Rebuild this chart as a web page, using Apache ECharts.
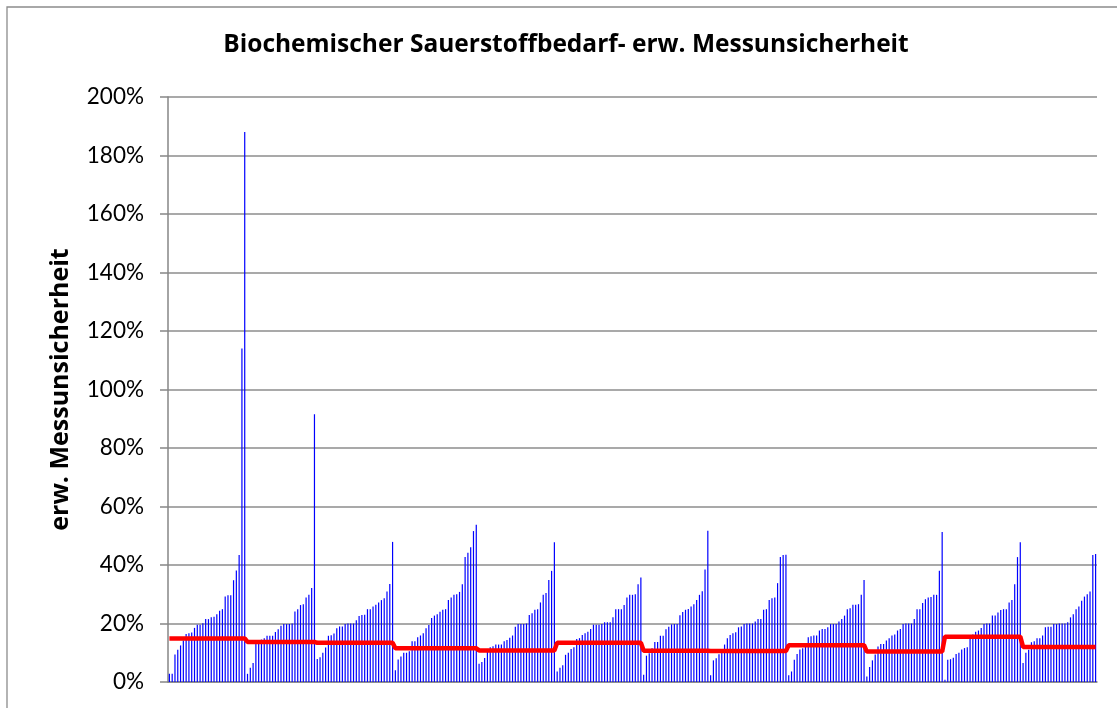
<!DOCTYPE html>
<html>
<head>
<meta charset="utf-8">
<script src="https://cdn.jsdelivr.net/npm/echarts@6/dist/echarts.min.js"></script>
<style>
html,body{margin:0;padding:0;background:#fff;}
#chart{width:1117px;height:708px;}
</style>
</head>
<body>
<div id="chart"></div>
<script>
// Bar values (%) per group
const g1 = [2.8, 2.8, 9.4, 11.0, 12.5, 14.2, 16.4, 16.7, 16.9, 18.5, 19.6, 19.6, 20.1, 21.5, 21.5, 22.1, 22.3, 23.2, 24.4, 24.9, 29.2, 29.7, 29.7, 34.8, 38.1, 43.4, 114, 188];
const g2 = [2.8, 4.9, 6.5, 13, 14, 14.5, 15, 15.8, 15.8, 15.8, 17.1, 18, 19.2, 19.8, 19.8, 19.8, 20, 24.1, 24.9, 26.3, 26.6, 28.9, 29.8, 32.1, 91.5];
const g3 = [7.9, 8.5, 10, 11.8, 15.8, 16, 16.6, 18.4, 19, 19, 19.8, 20, 20, 20, 21.1, 22.6, 22.9, 23, 24.9, 24.9, 25.8, 26.4, 27.2, 28, 28.6, 30.9, 33.5, 47.9];
const g4 = [4.0, 7.7, 8.7, 10, 10, 10.5, 13.9, 13.9, 15.3, 15.9, 16.7, 18.4, 19.5, 21.9, 22.7, 23.2, 24, 24.7, 24.9, 28, 28.9, 29.8, 30, 30.8, 33.4, 42.7, 44.2, 46.1, 51.6, 53.8];
const g5 = [6.2, 6.8, 8.2, 11.3, 11.9, 12.2, 12.8, 12.8, 12.8, 13.9, 14.4, 15.1, 15.9, 18.9, 19.8, 19.8, 19.8, 20, 22.9, 23.5, 24.7, 24.9, 27.2, 29.8, 30.4, 34.9, 38, 47.8];
const g6 = [3.6, 4.9, 5.7, 9.3, 10, 11.3, 11.9, 14.7, 15, 16.1, 16.7, 17.2, 18.1, 19.6, 19.6, 19.6, 19.8, 20.4, 20.4, 20.4, 22.1, 24.9, 24.9, 24.9, 26.3, 28.9, 29.8, 29.8, 30, 33.4, 35.7];
const g7 = [2.5, 9, 9.8, 11.5, 13.7, 13.7, 15.8, 15.8, 18, 18.9, 19.7, 19.8, 19.8, 22.8, 23.9, 24.7, 25, 25.8, 26.6, 28, 29.8, 31, 38.5, 51.7];
const g8 = [2.3, 7.4, 8.1, 9.5, 10.5, 12.8, 15, 16.1, 16.7, 17, 18.7, 19, 19.8, 20, 20, 20, 20.7, 21.5, 21.5, 24.7, 24.9, 28, 28.6, 28.9, 33.8, 42.7, 43.4, 43.5];
const g9 = [2.3, 3.6, 7.6, 9.6, 11.1, 11.5, 13, 15.3, 15.6, 15.9, 15.9, 17.6, 18.1, 18.1, 18.7, 19.8, 19.8, 19.8, 20.7, 21.5, 22.7, 24.9, 25.2, 26.4, 26.4, 26.6, 29.8, 34.9];
const g10 = [1.9, 5.1, 7.4, 9.4, 12.1, 13, 13, 14.2, 15, 15.9, 16.2, 17.6, 18.1, 19.8, 20, 20, 20, 21.5, 24.9, 24.9, 27, 28.3, 28.9, 29.1, 29.8, 29.8, 38, 51.3];
const g11 = [0.8, 7.6, 7.8, 8.3, 9.6, 10, 11.1, 11.6, 11.9, 15.3, 16.2, 17.2, 17.6, 18.5, 19.8, 20, 20, 22.7, 22.7, 23.8, 24.6, 24.9, 24.9, 27.2, 28, 33.4, 42.7, 47.8];
const g12 = [6.5, 10, 11, 13.6, 13.9, 15, 15, 15.9, 18.7, 18.9, 18.9, 19.8, 19.8, 20, 20, 20, 20.4, 22.1, 23.2, 24.9, 25.8, 27.8, 29.2, 30, 30.9, 43.4, 43.8];

// Red step line: one level (%) per group
const groupLevels = [14.9, 13.7, 13.4, 11.5, 10.8, 13.4, 10.7, 10.6, 12.6, 10.4, 15.5, 12.0];

// Y-axis tick labels
const yTicks = [0, 20, 40, 60, 80, 100, 120, 140, 160, 180, 200];

const groups = [g1, g2, g3, g4, g5, g6, g7, g8, g9, g10, g11, g12];
const barValues = [];
const lineValues = [];
groups.forEach((g, i) => {
  g.forEach(v => { barValues.push(v); lineValues.push(groupLevels[i]); });
});
const categories = barValues.map((_, i) => String(i + 1));

const chart = echarts.init(document.getElementById('chart'), null, {renderer: 'canvas'});
const FONT = '"Open Sans", Lato, sans-serif';
chart.setOption({
  animation: false,
  backgroundColor: '#ffffff',
  title: {
    text: 'Biochemischer Sauerstoffbedarf- erw. Messunsicherheit',
    left: 566, top: 28, textAlign: 'center',
    textStyle: {fontFamily: FONT, fontWeight: 'bold', fontSize: 24.5, color: '#000'}
  },
  graphic: [{
    type: 'rect', shape: {x: 7, y: 7, width: 1130, height: 730},
    style: {fill: 'none', stroke: '#8c8c8c', lineWidth: 1.3}, silent: true
  }],
  grid: {left: 168, right: 20, top: 97, bottom: 26, containLabel: false},
  xAxis: {
    type: 'category', data: categories, boundaryGap: true,
    axisLine: {show: true, lineStyle: {color: '#868686', width: 1.5}},
    axisTick: {show: false}, axisLabel: {show: false}, splitLine: {show: false}
  },
  yAxis: {
    type: 'value', min: 0, max: 200, interval: 20,
    name: 'erw. Messunsicherheit', nameLocation: 'middle', nameGap: 95, nameRotate: 90,
    nameTextStyle: {fontFamily: FONT, fontWeight: 'bold', fontSize: 25, color: '#000'},
    axisLine: {show: true, lineStyle: {color: '#868686', width: 1.5}},
    axisTick: {show: true, length: 8, inside: false, lineStyle: {color: '#868686', width: 1.5}},
    axisLabel: {
      margin: 24, fontFamily: 'Lato, sans-serif', fontSize: 22.5, color: '#000',
      formatter: v => (yTicks.indexOf(v) >= 0 ? v + '%' : '')
    },
    splitLine: {show: true, lineStyle: {color: '#8c8c8c', width: 1.5}}
  },
  series: [{
    type: 'bar', data: barValues, barWidth: 1.2,
    itemStyle: {color: '#0000ff'}, silent: true
  }, {
    type: 'line', data: lineValues, showSymbol: false, symbol: 'none',
    lineStyle: {color: '#ff0000', width: 4.5}, z: 5, silent: true
  }]
});
chart.setOption({title: {left: 561}});
</script>
</body>
</html>
